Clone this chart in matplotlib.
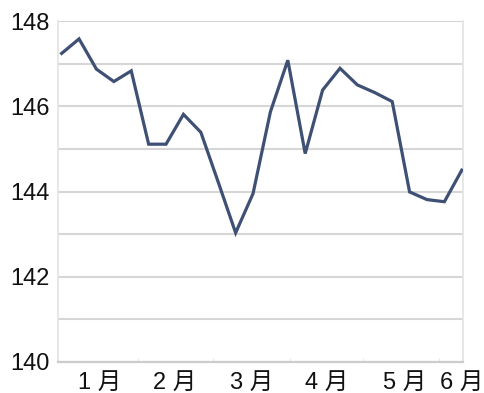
import matplotlib
matplotlib.use("Agg")
import matplotlib.pyplot as plt
from matplotlib.ticker import MultipleLocator

plt.rcParams['font.family'] = ['Liberation Sans', 'Noto Sans CJK JP', 'DejaVu Sans']

values = [147.24, 147.58, 146.87, 146.58, 146.83, 145.11, 145.11, 145.81, 145.39,
          144.22, 143.03, 143.95, 145.87, 147.08, 144.89, 146.38, 146.89, 146.50,
          146.32, 146.11, 143.99, 143.81, 143.76, 144.50]
month_labels = ['1 月', '2 月', '3 月', '4 月', '5 月', '6 月']
month_pos = [2.2, 6.5, 10.9, 15.25, 19.7, 23.0]
minor_ticks = [-0.2, 4.4, 8.7, 13.1, 17.3, 21.7]
y_ticks = [140, 142, 144, 146, 148]

fig = plt.figure(figsize=(4.85, 3.93), dpi=100)
ax = fig.add_axes([58/485, 1 - 362/393, (463-58)/485, (362-21)/393])

x = list(range(len(values)))
ax.plot(x, values, color='#3f5075', lw=2.3, solid_joinstyle='miter', zorder=3)

ax.set_xlim(-0.21, 23.07)
ax.set_ylim(140, 148)
ax.set_yticks(y_ticks)
ax.yaxis.set_minor_locator(MultipleLocator(1))
ax.grid(True, which='both', axis='y', color='#d6d6d6', lw=1.5)
ax.set_axisbelow(True)

ax.set_xticks(minor_ticks, minor=True)
ax.set_xticks(month_pos)
ax.set_xticklabels(month_labels)
ax.tick_params(axis='x', which='major', length=0, labelsize=17, pad=7, colors='#111111')
ax.tick_params(axis='x', which='minor', length=3, color='#e0e0e0', direction='in')
ax.tick_params(axis='y', which='both', length=0, labelsize=17, pad=6, colors='#111111')

for s in ['left', 'right']:
    ax.spines[s].set_color('#e3e3e3')
    ax.spines[s].set_linewidth(1.2)
ax.spines['top'].set_visible(False)
ax.spines['bottom'].set_color('#cccccc')
ax.spines['bottom'].set_linewidth(1.6)

fig.savefig('out.png', dpi=100)
